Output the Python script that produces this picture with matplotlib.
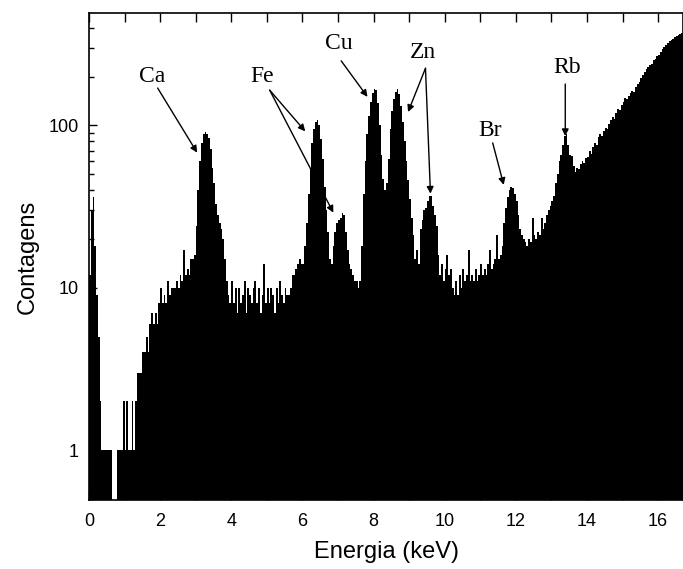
import numpy as np
import matplotlib
matplotlib.use("Agg")
import matplotlib.pyplot as plt
from matplotlib import ticker

# ---- data: counts per 0.05 keV channel ----
channel_width = 0.05
counts_00_01 = [12, 30, 36, 18, 9, 5, 2, 1, 1, 1, 1, 1, 1, 0, 0, 0, 1, 1, 1, 2]
counts_01_02 = [1, 2, 1, 1, 2, 1, 2, 3, 3, 3, 4, 4, 5, 4, 6, 7, 6, 7, 6, 8]
counts_02_03 = [10, 8, 9, 8, 11, 9, 10, 10, 10, 11, 10, 12, 11, 17, 12, 13, 12, 15, 15, 16]
counts_03_04 = [24, 40, 60, 78, 88, 91, 89, 84, 72, 55, 44, 33, 28, 25, 23, 20, 15, 11, 9, 8]
counts_04_05 = [11, 8, 10, 7, 10, 8, 9, 11, 7, 10, 9, 8, 10, 11, 8, 10, 7, 9, 14, 8]
counts_05_06 = [10, 8, 10, 9, 7, 10, 8, 11, 9, 8, 10, 9, 9, 10, 12, 12, 13, 14, 15, 14]
counts_06_07 = [14, 18, 25, 38, 55, 78, 95, 105, 108, 100, 82, 62, 42, 30, 22, 15, 14, 18, 22, 25]
counts_07_08 = [26, 27, 29, 28, 22, 17, 14, 13, 12, 11, 11, 10, 11, 18, 38, 60, 88, 115, 140, 158]
counts_08_09 = [168, 166, 138, 100, 66, 47, 40, 44, 62, 95, 122, 145, 160, 167, 156, 132, 105, 80, 60, 46]
counts_09_10 = [35, 27, 21, 15, 17, 14, 23, 26, 30, 31, 34, 37, 37, 32, 28, 24, 16, 12, 14, 11]
counts_10_11 = [13, 16, 12, 13, 10, 9, 11, 9, 12, 10, 13, 11, 12, 17, 11, 12, 11, 13, 11, 12]
counts_11_12 = [14, 12, 13, 12, 14, 17, 13, 14, 15, 21, 15, 16, 18, 25, 31, 36, 40, 42, 41, 38]
counts_12_13 = [34, 28, 23, 21, 20, 19, 18, 20, 19, 27, 21, 20, 22, 21, 27, 23, 25, 28, 30, 32]
counts_13_14 = [34, 37, 44, 50, 60, 66, 76, 86, 88, 76, 66, 65, 56, 52, 55, 54, 58, 60, 59, 63]
counts_14_15 = [64, 70, 67, 74, 78, 76, 85, 88, 86, 93, 97, 95, 102, 108, 112, 110, 120, 126, 124, 133]
counts_15_16 = [140, 148, 146, 152, 158, 162, 160, 172, 180, 186, 195, 205, 214, 222, 228, 236, 240, 252, 258, 266]
counts_16_17 = [272, 282, 296, 305, 312, 322, 330, 338, 342, 350, 356, 362, 368, 372, 378]

counts = np.array(counts_00_01 + counts_01_02 + counts_02_03 + counts_03_04 +
                  counts_04_05 + counts_05_06 + counts_06_07 + counts_07_08 +
                  counts_08_09 + counts_09_10 + counts_10_11 + counts_11_12 +
                  counts_12_13 + counts_13_14 + counts_14_15 + counts_15_16 +
                  counts_16_17, dtype=float)
edges = np.arange(len(counts) + 1) * channel_width

# annotations: label, text position (keV, counts), arrow targets
labels = ["Ca", "Fe", "Cu", "Zn", "Br", "Rb"]
label_pos = [(1.77, 200), (4.87, 200), (7.03, 320), (9.38, 280), (11.27, 93), (13.43, 228)]
arrow_tails = [[(1.93, 170)], [(5.08, 165), (5.08, 165)], [(7.09, 250)],
               [(9.46, 225), (9.46, 225)], [(11.35, 78)], [(13.39, 180)]]
arrow_heads = [[(3.04, 68)], [(6.08, 92), (6.87, 29)], [(7.83, 150)],
               [(8.97, 121), (9.60, 38)], [(11.66, 43)], [(13.39, 86)]]

xticks = [0, 2, 4, 6, 8, 10, 12, 14, 16]
yticks = [1, 10, 100]
ytick_labels = ["1", "10", "100"]

# ---- figure ----
plt.rcParams['font.family'] = ['Liberation Sans', 'DejaVu Sans']
fig = plt.figure(figsize=(6.83, 5.69), dpi=100)
ax = fig.add_axes([89 / 683, 69 / 569, 594 / 683, 487 / 569])

ax.stairs(counts, edges, fill=True, color='black', baseline=1e-3, linewidth=0)
ax.set_yscale('log')
ax.set_xlim(0, 16.70)
ax.set_ylim(0.492, 493)

ax.xaxis.set_major_locator(ticker.FixedLocator(xticks))
ax.xaxis.set_minor_locator(ticker.MultipleLocator(1))
ax.yaxis.set_major_locator(ticker.FixedLocator(yticks))
ax.yaxis.set_major_formatter(ticker.FixedFormatter(ytick_labels))
ax.yaxis.set_minor_locator(ticker.LogLocator(base=10, subs=np.arange(2, 10) * 1.0, numticks=20))
ax.yaxis.set_minor_formatter(ticker.NullFormatter())

ax.tick_params(axis='x', which='both', direction='in', top=True, bottom=True,
               length=6.5, width=1, labelsize=13, pad=9.5)
ax.tick_params(axis='y', which='major', direction='in', left=True, right=False,
               length=6, width=1, labelsize=13, pad=7.5)
ax.tick_params(axis='y', which='minor', direction='in', left=True, right=False,
               length=3.5, width=1)
for s in ax.spines.values():
    s.set_linewidth(1.2)

ax.set_xlabel("Energia (keV)", fontsize=17, labelpad=7.5)
ax.set_ylabel("Contagens", fontsize=17, labelpad=7)

for lab, pos, tails, heads in zip(labels, label_pos, arrow_tails, arrow_heads):
    ax.text(pos[0], pos[1], lab, family=['Liberation Serif', 'DejaVu Serif'],
            fontsize=17, ha='center', va='center')
    for t, h in zip(tails, heads):
        ax.annotate('', xy=h, xytext=t,
                    arrowprops=dict(arrowstyle='-|>', lw=1.0, color='black',
                                    mutation_scale=10, shrinkA=0, shrinkB=0))

fig.savefig("out.png", dpi=100)
